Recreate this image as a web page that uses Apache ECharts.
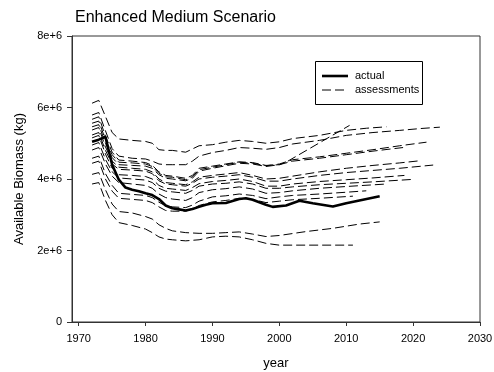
<!DOCTYPE html>
<html>
<head>
<meta charset="utf-8">
<script src="https://cdn.jsdelivr.net/npm/echarts@6/dist/echarts.min.js"></script>
<style>html,body{margin:0;padding:0;background:#fff;}#c{width:494px;height:372px;}</style>
</head>
<body>
<div id="c"></div>
<script>
// values in millions of kg
const xTicks = [1970, 1980, 1990, 2000, 2010, 2020, 2030];
const yTicks = [0, 2, 4, 6, 8];
const legendNames = ['actual', 'assessments'];

const actual = [[1972,5.04],[1973,5.1],[1974,5.18],[1975,4.4],[1976,3.98],[1977,3.76],[1978,3.7],[1979,3.66],[1980,3.6],[1981,3.55],[1982,3.44],[1983,3.26],[1984,3.18],[1985,3.15],[1986,3.12],[1987,3.16],[1988,3.22],[1989,3.28],[1990,3.32],[1992,3.33],[1994,3.44],[1995,3.46],[1996,3.42],[1998,3.28],[1999,3.22],[2001,3.26],[2003,3.39],[2005,3.32],[2008,3.23],[2010,3.32],[2015,3.52]];

const a1 = [[1972,6.12],[1973,6.2],[1974,5.75],[1975,5.3],[1976,5.12],[1978,5.08],[1980,5.05],[1981,5.0],[1982,4.82],[1983,4.8],[1984,4.8],[1986,4.75],[1987,4.84],[1988,4.93],[1990,4.96],[1992,5.03],[1994,5.08],[1996,5.05],[1998,5.0],[2000,5.04],[2002,5.13],[2006,5.22],[2010,5.36],[2013,5.42],[2016,5.46]];
const a2 = [[1972,5.79],[1973,5.86],[1974,5.35],[1975,4.85],[1976,4.64],[1978,4.58],[1980,4.56],[1981,4.5],[1982,4.42],[1983,4.4],[1984,4.4],[1986,4.4],[1987,4.5],[1988,4.64],[1990,4.74],[1992,4.8],[1994,4.88],[1996,4.86],[1998,4.83],[2000,4.88],[2002,4.98],[2006,5.08],[2010,5.22],[2014,5.3],[2018,5.36],[2021,5.41],[2024,5.45]];
const a3 = [[1972,5.67],[1973,5.74],[1974,5.2],[1975,4.75],[1976,4.53],[1978,4.5],[1980,4.46],[1981,4.38],[1982,4.2],[1983,4.1],[1984,4.08],[1986,4.02],[1987,4.1],[1988,4.3],[1990,4.36],[1992,4.42],[1994,4.48],[1996,4.46],[1998,4.38],[2000,4.4],[2001,4.47],[2010.5,5.5]];
const a4 = [[1972,5.56],[1973,5.62],[1974,5.1],[1975,4.68],[1976,4.47],[1978,4.45],[1980,4.42],[1981,4.35],[1982,4.16],[1983,4.06],[1984,4.05],[1986,3.98],[1987,4.06],[1988,4.26],[1990,4.33],[1992,4.4],[1994,4.47],[1996,4.44],[1998,4.37],[2000,4.42],[2002,4.54],[2006,4.62],[2010,4.72],[2014,4.82],[2018,4.93],[2022,5.03]];
const a5 = [[1972,5.46],[1973,5.52],[1974,5.0],[1975,4.6],[1976,4.4],[1978,4.38],[1980,4.36],[1981,4.3],[1982,4.12],[1983,4.02],[1984,4.0],[1986,3.95],[1987,4.02],[1988,4.22],[1990,4.3],[1992,4.37],[1994,4.44],[1996,4.42],[1998,4.35],[2000,4.4],[2002,4.5],[2006,4.58],[2010,4.68],[2014,4.78],[2018.5,4.88]];
const a6 = [[1972,5.37],[1973,5.44],[1974,4.9],[1975,4.5],[1976,4.33],[1978,4.3],[1980,4.27],[1981,4.2],[1982,4.0],[1983,3.9],[1984,3.88],[1986,3.84],[1987,3.92],[1988,4.05],[1990,4.1],[1992,4.14],[1994,4.18],[1996,4.1],[1998,4.0],[2000,4.02],[2002,4.08],[2006,4.2],[2010,4.3],[2014,4.38],[2018,4.45],[2021,4.51]];
const a7 = [[1972,5.23],[1973,5.3],[1974,4.8],[1975,4.42],[1976,4.27],[1978,4.25],[1980,4.22],[1981,4.15],[1982,3.95],[1983,3.86],[1984,3.84],[1986,3.8],[1987,3.88],[1988,4.0],[1990,4.05],[1992,4.08],[1994,4.12],[1996,4.05],[1998,3.94],[2000,3.94],[2002,4.0],[2006,4.1],[2010,4.18],[2014,4.24],[2018,4.3],[2023,4.39]];
const a8 = [[1972,5.15],[1973,5.22],[1974,4.7],[1975,4.3],[1976,4.12],[1978,4.1],[1980,4.07],[1981,4.0],[1982,3.82],[1983,3.74],[1984,3.72],[1986,3.68],[1987,3.76],[1988,3.87],[1990,3.93],[1992,3.96],[1994,4.0],[1996,3.93],[1998,3.8],[2000,3.8],[2002,3.86],[2006,3.93],[2010,3.98],[2014,4.03],[2018.7,4.1]];
const a9 = [[1972,4.95],[1973,5.02],[1974,4.55],[1975,4.2],[1976,4.03],[1978,4.0],[1980,3.97],[1981,3.9],[1982,3.74],[1983,3.66],[1984,3.64],[1986,3.6],[1987,3.68],[1988,3.8],[1990,3.86],[1992,3.88],[1994,3.92],[1996,3.86],[1998,3.74],[2000,3.74],[2002,3.78],[2006,3.84],[2010,3.88],[2014,3.92],[2020,3.99]];
const a10 = [[1972,4.81],[1973,4.88],[1974,4.42],[1975,4.08],[1976,3.9],[1978,3.86],[1980,3.82],[1981,3.74],[1982,3.58],[1983,3.48],[1984,3.44],[1986,3.4],[1987,3.48],[1988,3.62],[1990,3.7],[1992,3.73],[1994,3.78],[1996,3.72],[1998,3.6],[2000,3.62],[2002,3.67],[2006,3.74],[2010,3.79],[2016,3.86]];
const a11 = [[1972,4.58],[1973,4.64],[1974,4.15],[1975,3.82],[1976,3.6],[1978,3.57],[1980,3.54],[1981,3.48],[1982,3.35],[1983,3.25],[1984,3.22],[1986,3.2],[1987,3.27],[1988,3.38],[1990,3.5],[1992,3.53],[1994,3.58],[1996,3.54],[1998,3.45],[2000,3.5],[2002,3.54],[2006,3.58],[2010,3.63],[2013,3.67]];
const a12 = [[1972,4.44],[1973,4.5],[1974,4.0],[1975,3.66],[1976,3.46],[1978,3.43],[1980,3.4],[1981,3.34],[1982,3.22],[1983,3.12],[1984,3.1],[1986,3.1],[1987,3.16],[1988,3.26],[1990,3.36],[1992,3.4],[1994,3.46],[1996,3.43],[1998,3.34],[2000,3.38],[2002,3.42],[2006,3.46],[2011,3.52]];
const a13 = [[1972,4.13],[1973,4.18],[1974,3.7],[1975,3.3],[1976,3.09],[1978,3.05],[1980,2.95],[1981,2.88],[1982,2.72],[1983,2.62],[1984,2.55],[1986,2.5],[1988,2.48],[1990,2.48],[1992,2.5],[1994,2.52],[1996,2.46],[1998,2.39],[2000,2.42],[2004,2.53],[2008,2.62],[2012,2.74],[2015,2.8]];
const a14 = [[1972,3.86],[1973,3.9],[1974,3.4],[1975,3.0],[1976,2.78],[1978,2.7],[1980,2.6],[1981,2.5],[1982,2.38],[1983,2.32],[1984,2.3],[1986,2.27],[1988,2.3],[1990,2.38],[1992,2.4],[1994,2.38],[1996,2.3],[1998,2.2],[2000,2.15],[2004,2.15],[2011,2.15]];

const assessments = [a1,a2,a3,a4,a5,a6,a7,a8,a9,a10,a11,a12,a13,a14];

const FONT = 'Liberation Sans, Arial, sans-serif';
const chart = echarts.init(document.getElementById('c'), null, {renderer: 'canvas'});

const DASH = [9, 4];
const series = assessments.map(d => ({
  name: 'assessments', type: 'line', data: d, symbol: 'none', silent: true, color: '#000',
  lineStyle: {color: '#000', width: 1, type: DASH}, z: 2
}));
series.push({
  name: 'actual', type: 'line', data: actual, symbol: 'none', silent: true, color: '#000',
  lineStyle: {color: '#000', width: 2.6}, z: 3
});

// legend box drawn as graphic elements
const LX = 315, LY = 61, LW = 107, LH = 43;
const legendGraphic = [
  {type: 'rect', shape: {x: LX + 0.5, y: LY + 0.5, width: LW, height: LH},
   style: {fill: '#fff', stroke: '#000', lineWidth: 1}, z: 10},
  {type: 'line', shape: {x1: LX + 7, y1: LY + 15, x2: LX + 33, y2: LY + 15},
   style: {stroke: '#000', lineWidth: 2.6}, z: 11},
  {type: 'text', x: LX + 40, y: LY + 15,
   style: {text: legendNames[0], fill: '#000', font: '11px ' + FONT, textVerticalAlign: 'middle', verticalAlign: 'middle'}, z: 11},
  {type: 'line', shape: {x1: LX + 7, y1: LY + 29, x2: LX + 33, y2: LY + 29},
   style: {stroke: '#000', lineWidth: 1, lineDash: DASH}, z: 11},
  {type: 'text', x: LX + 40, y: LY + 29,
   style: {text: legendNames[1], fill: '#000', font: '11px ' + FONT, textVerticalAlign: 'middle', verticalAlign: 'middle'}, z: 11}
];

chart.setOption({
  animation: false,
  backgroundColor: '#fff',
  title: {text: 'Enhanced Medium Scenario', left: 70, top: 5,
    textStyle: {fontFamily: FONT, fontSize: 16, fontWeight: 'normal', color: '#000'}},
  graphic: legendGraphic,
  grid: {left: 72, right: 14, top: 36, bottom: 50, show: true, borderColor: '#333', borderWidth: 1,
    containLabel: false, outerBoundsMode: 'none'},
  xAxis: {
    type: 'value', min: 1969, max: 2030,
    name: 'year', nameLocation: 'middle', nameGap: 35,
    nameTextStyle: {fontFamily: FONT, fontSize: 13, color: '#000'},
    axisLine: {show: true, lineStyle: {color: '#333'}},
    axisTick: {show: true, inside: false, length: 4, customValues: xTicks, lineStyle: {color: '#333'}},
    axisLabel: {customValues: xTicks, margin: 11, fontFamily: FONT, fontSize: 11, color: '#000',
      formatter: v => String(v)},
    splitLine: {show: false}
  },
  yAxis: {
    type: 'value', min: 0, max: 8, interval: 2,
    name: 'Available Biomass (kg)', nameLocation: 'middle', nameGap: 46,
    nameTextStyle: {fontFamily: FONT, fontSize: 13, color: '#000'},
    axisLine: {show: true, lineStyle: {color: '#333'}},
    axisTick: {show: true, length: 5, lineStyle: {color: '#333'}},
    axisLabel: {margin: 10, fontFamily: FONT, fontSize: 11, color: '#000',
      formatter: v => v === 0 ? '0' : v + 'e+6'},
    splitLine: {show: false}
  },
  series: series
});
</script>
</body>
</html>
